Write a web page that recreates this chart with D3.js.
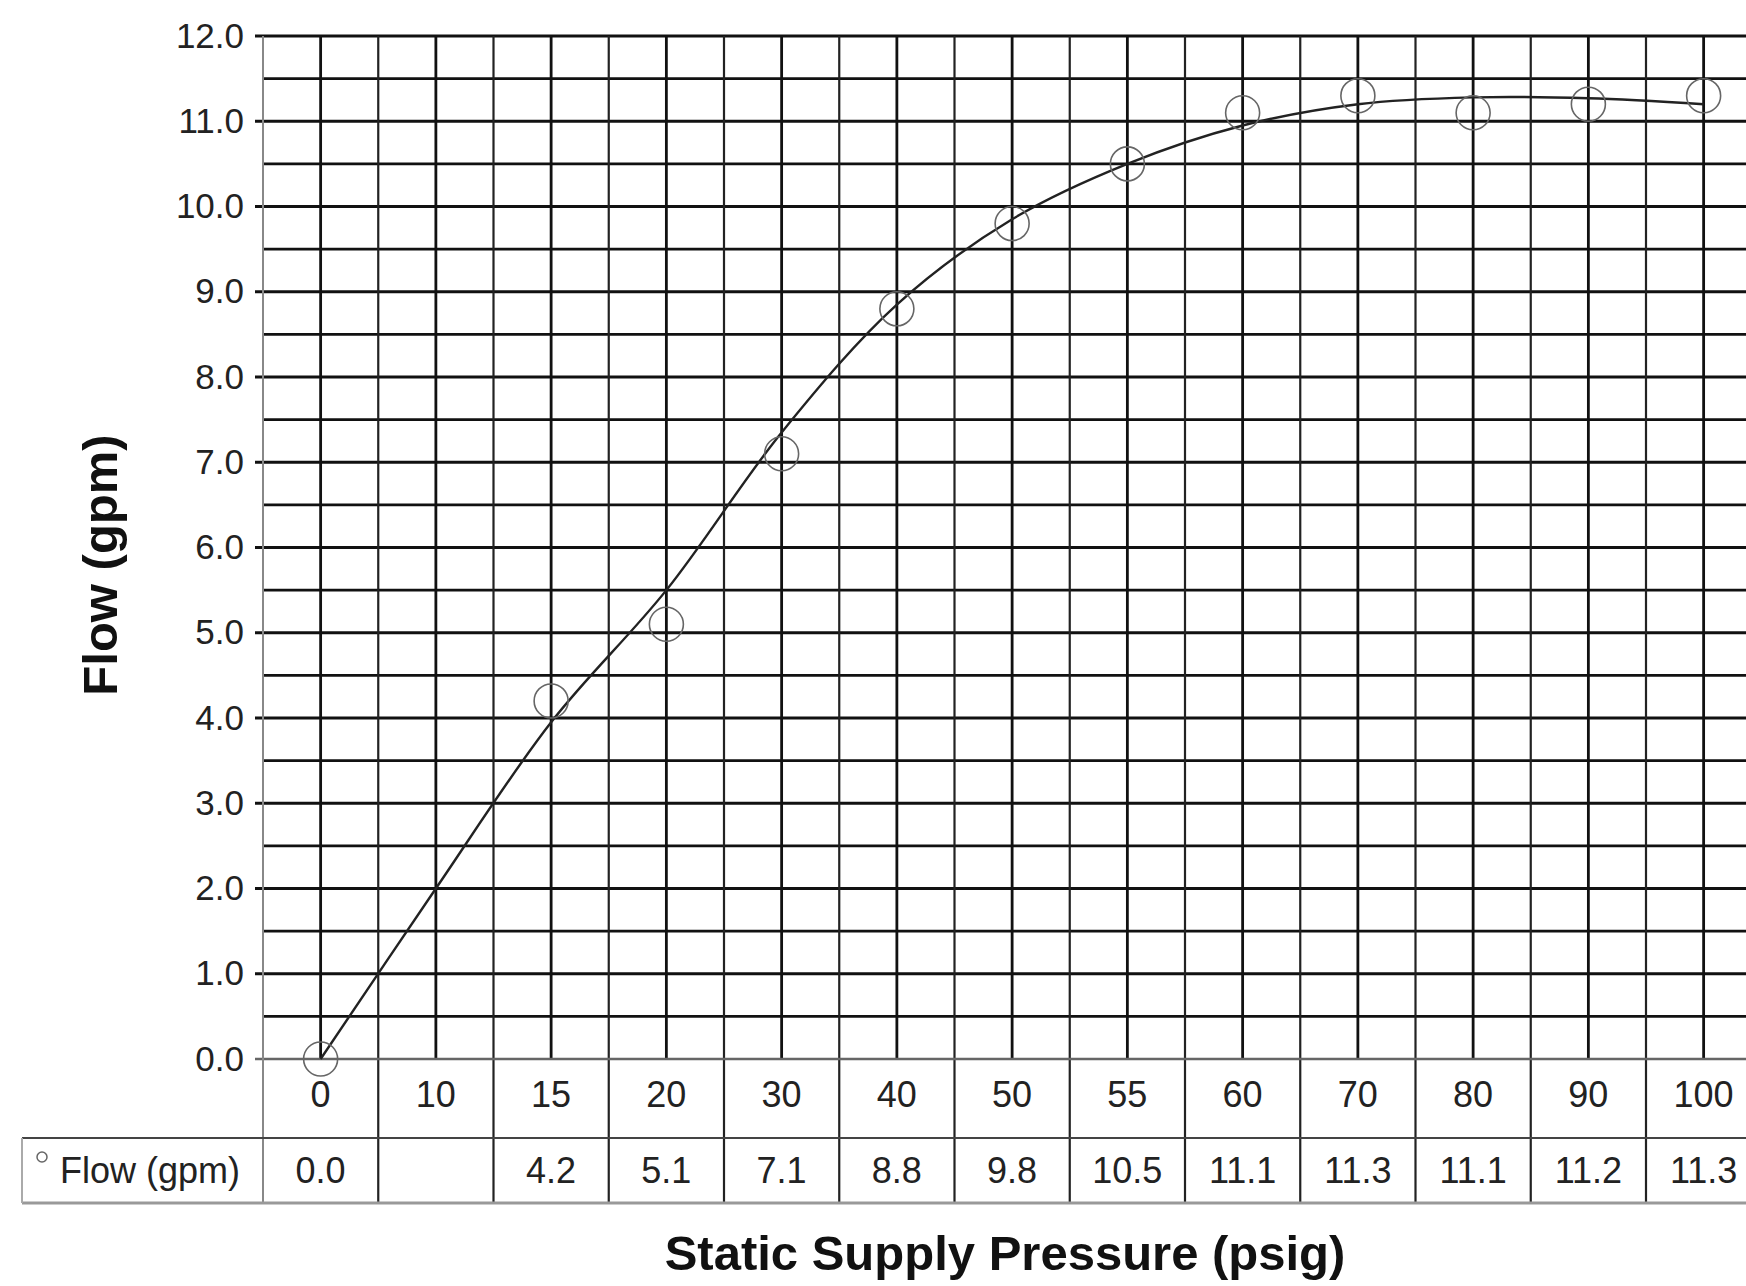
<!DOCTYPE html>
<html>
<head>
<meta charset="utf-8">
<script src="https://cdn.jsdelivr.net/npm/d3@7"></script>
<style>
  body { margin: 0; background: #fff; }
  svg { display: block; font-family: "Liberation Sans", Arial, sans-serif; }
</style>
</head>
<body>
<svg id="chart" width="1746" height="1286"></svg>
<script>
// data
const categories = ["0", "10", "15", "20", "30", "40", "50", "55", "60", "70", "80", "90", "100"];
const flow = [0.0, null, 4.2, 5.1, 7.1, 8.8, 9.8, 10.5, 11.1, 11.3, 11.1, 11.2, 11.3];
const trend = [0.0, 2.0, 3.95, 5.5, 7.35, 8.85, 9.85, 10.5, 10.95, 11.2, 11.28, 11.27, 11.2];
const yTicks = [0, 1, 2, 3, 4, 5, 6, 7, 8, 9, 10, 11, 12];
const yHalves = [0.5, 1.5, 2.5, 3.5, 4.5, 5.5, 6.5, 7.5, 8.5, 9.5, 10.5, 11.5];
const seriesName = "Flow (gpm)";
const xTitle = "Static Supply Pressure (psig)";
const yTitle = "Flow (gpm)";

let svg = d3.select("#chart");
let plotLeft = 263, plotTop = 36, plotBottom = 1059; // plot area
let band = 115.25;
let rowLabel = 1138, rowEnd = 1203; // data table rows
let rightEdge = plotLeft + band * categories.length;

let x = d3.scaleBand().domain(categories).range([plotLeft, rightEdge]);
let y = d3.scaleLinear().domain([0, 12]).range([plotBottom, plotTop]);

let grid = svg.append("g");

// half-step horizontal lines
grid.selectAll(".half").data(yHalves).enter().append("line")
    .attr("x1", plotLeft).attr("x2", rightEdge)
    .attr("y1", d => y(d)).attr("y2", d => y(d))
    .attr("stroke", "#111").attr("stroke-width", 2.8);

// integer horizontal lines (start at tick)
grid.selectAll(".major").data(yTicks.filter(d => d > 0)).enter().append("line")
    .attr("x1", plotLeft - 8).attr("x2", rightEdge)
    .attr("y1", d => y(d)).attr("y2", d => y(d))
    .attr("stroke", "#111").attr("stroke-width", 2.8);

// category centre lines
grid.selectAll(".cen").data(categories).enter().append("line")
    .attr("x1", d => x(d) + x.bandwidth() / 2).attr("x2", d => x(d) + x.bandwidth() / 2)
    .attr("y1", plotTop).attr("y2", plotBottom)
    .attr("stroke", "#111").attr("stroke-width", 2.8);

// category boundaries run through the table
grid.selectAll(".bnd").data(categories.slice(1).concat(["end"])).enter().append("line")
    .attr("x1", d => d == "end" ? rightEdge : x(d)).attr("x2", d => d == "end" ? rightEdge : x(d))
    .attr("y1", plotTop).attr("y2", rowEnd)
    .attr("stroke", "#222").attr("stroke-width", 2.2);

// zero line / axis
grid.append("line").attr("x1", plotLeft - 8).attr("x2", rightEdge)
    .attr("y1", y(0)).attr("y2", y(0)).attr("stroke", "#666").attr("stroke-width", 2.6);
grid.append("line").attr("x1", plotLeft).attr("x2", plotLeft)
    .attr("y1", plotTop).attr("y2", rowEnd).attr("stroke", "#888").attr("stroke-width", 2);

// table lines
grid.append("line").attr("x1", 22).attr("x2", rightEdge)
    .attr("y1", rowLabel).attr("y2", rowLabel).attr("stroke", "#444").attr("stroke-width", 2.2);
grid.append("line").attr("x1", 22).attr("x2", rightEdge)
    .attr("y1", rowEnd).attr("y2", rowEnd).attr("stroke", "#999").attr("stroke-width", 3);
grid.append("line").attr("x1", 22).attr("x2", 22)
    .attr("y1", rowLabel).attr("y2", rowEnd).attr("stroke", "#aaa").attr("stroke-width", 2);

// y axis labels
let yAxis = d3.axisLeft(y).tickValues(yTicks).tickFormat(d3.format(".1f")).tickSize(0).tickPadding(19);
let ga = svg.append("g").attr("transform", "translate(" + plotLeft + ",0)").call(yAxis);
ga.select(".domain").remove();
ga.selectAll("text").attr("font-size", 35).attr("fill", "#222")
    .attr("font-family", "Liberation Sans, Arial, sans-serif");

// x category labels (first table row)
svg.selectAll(".xl").data(categories).enter().append("text")
    .attr("x", d => x(d) + x.bandwidth() / 2).attr("y", 1094)
    .attr("text-anchor", "middle").attr("dominant-baseline", "central")
    .attr("font-size", 36).attr("fill", "#222").text(d => d);

// value row
svg.selectAll(".vl").data(categories).enter().append("text")
    .attr("x", d => x(d) + x.bandwidth() / 2).attr("y", 1170)
    .attr("text-anchor", "middle").attr("dominant-baseline", "central")
    .attr("font-size", 36).attr("fill", "#222")
    .text((d, i) => flow[i] == null ? "" : d3.format(".1f")(flow[i]));

// legend cell
svg.append("circle").attr("cx", 42).attr("cy", 1157).attr("r", 5)
    .attr("fill", "none").attr("stroke", "#666").attr("stroke-width", 1.5);
svg.append("text").attr("x", 60).attr("y", 1170).attr("dominant-baseline", "central")
    .attr("font-size", 36).attr("fill", "#222").text(seriesName);

// trend line
let line = d3.line()
    .x((d, i) => x(categories[i]) + x.bandwidth() / 2)
    .y(d => y(d))
    .curve(d3.curveCatmullRom.alpha(0.5));
svg.append("path").datum(trend).attr("d", line)
    .attr("fill", "none").attr("stroke", "#222").attr("stroke-width", 2.4);

// markers
svg.selectAll(".pt").data(flow.map((v, i) => ({c: categories[i], v: v})).filter(d => d.v != null))
    .enter().append("circle")
    .attr("cx", d => x(d.c) + x.bandwidth() / 2).attr("cy", d => y(d.v)).attr("r", 17)
    .attr("fill", "none").attr("stroke", "#666").attr("stroke-width", 1.6);

// titles
svg.append("text").attr("x", 1005).attr("y", 1253).attr("text-anchor", "middle")
    .attr("dominant-baseline", "central").attr("font-size", 49).attr("font-weight", "bold")
    .attr("fill", "#111").text(xTitle);
svg.append("text").attr("transform", "translate(100,565) rotate(-90)").attr("text-anchor", "middle")
    .attr("dominant-baseline", "central").attr("font-size", 49).attr("font-weight", "bold")
    .attr("fill", "#111").text(yTitle);
</script>
</body>
</html>
